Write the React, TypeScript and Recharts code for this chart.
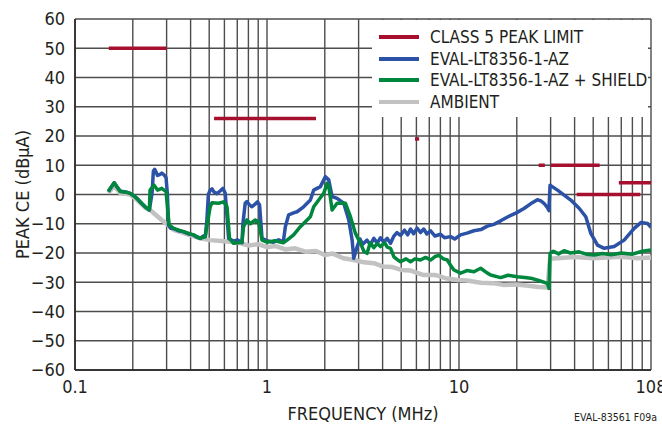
import { LineChart, Line, XAxis, YAxis, CartesianGrid } from "recharts";

// Conducted emissions (current probe), CISPR 25 class 5 peak limit
const FONT = '"Liberation Sans Narrow", "DejaVu Sans Condensed", "Roboto", sans-serif';
const TEXT = "#231f20";
const GRID = "#4d4d4d";

const RED = "#a6102e";
const BLUE = "#2b52a6";
const GREEN = "#00873e";
const GRAY = "#c2c2c2";

const X_GRID = [
  0.1, 0.2, 0.3, 0.4, 0.5, 0.6, 0.7, 0.8, 0.9,
  1, 2, 3, 4, 5, 6, 7, 8, 9,
  10, 20, 30, 40, 50, 60, 70, 80, 90, 100,
];
const X_LABELS: Record<number, string> = { 0.1: "0.1", 1: "1", 10: "10", 100: "108" };
const Y_TICKS = [-60, -50, -40, -30, -20, -10, 0, 10, 20, 30, 40, 50, 60];

// [start MHz, stop MHz, dBµA]
const LIMIT_SEGMENTS: [number, number, number][] = [
  [0.15, 0.3, 50],
  [0.53, 1.8, 26],
  [5.9, 6.2, 19],
  [26, 28, 10],
  [30, 54, 10],
  [41, 88, 0],
  [68, 108, 4],
];

// [MHz, dBµA]
const BOARD: [number, number][] = [
  [0.149, 1.0], [0.16, 4.0], [0.166, 2.5], [0.172, 1.2], [0.185, 0.8], [0.194, 0.4],
  [0.203, -0.5], [0.21, -1.3], [0.222, -3.0], [0.232, -4.2], [0.244, -5.3],
  [0.252, 0.5], [0.256, 8.0], [0.26, 8.6], [0.265, 7.5], [0.269, 6.5], [0.276, 6.8],
  [0.283, 7.3], [0.29, 6.8], [0.298, 5.8], [0.303, 0], [0.307, -10.5], [0.315, -11.5],
  [0.326, -11.6], [0.345, -12.4], [0.367, -12.7], [0.39, -13.5], [0.414, -13.8],
  [0.43, -14.6], [0.449, -15], [0.465, -14.2], [0.477, -14.4],
  [0.486, -9], [0.495, 0], [0.506, 1.5], [0.517, 1.9], [0.53, 0.8], [0.549, 0.3],
  [0.57, 1.2], [0.59, 2.1], [0.606, 0.4], [0.62, -8], [0.631, -15], [0.67, -16],
  [0.7, -15.5], [0.741, -16.5],
  [0.749, -10], [0.77, -3], [0.786, -2.4], [0.81, -3.5], [0.835, -4.2], [0.87, -3.2],
  [0.893, -2.5], [0.915, -3.6], [0.93, -10], [0.942, -15], [1.0, -15.8], [1.08, -16.3],
  [1.15, -15.5], [1.216, -16.2],
  [1.246, -11], [1.296, -7], [1.376, -6.3], [1.434, -5.9], [1.552, -4.2], [1.682, -1.9],
  [1.751, 1.5], [1.897, 2.7], [2.015, 6.1], [2.096, 5.0], [2.183, -0.7], [2.318, -1.3],
  [2.51, -3.0], [2.666, -8.7], [2.776, -15.6], [2.83, -21.8], [2.95, -17.8],
  [3.05, -15.2], [3.15, -17.0], [3.32, -15.6], [3.45, -17.2], [3.6, -15.0], [3.75, -16.6],
  [3.9, -14.8], [4.05, -16.2], [4.23, -15.0], [4.4, -16.7], [4.58, -14.2], [4.75, -13.0],
  [4.96, -14.0], [5.2, -12.2], [5.4, -13.8], [5.59, -11.8], [5.8, -13.4], [6.05, -11.5],
  [6.3, -13.0], [6.55, -11.8], [6.8, -13.5], [7.11, -12.4], [7.5, -14.2], [8.02, -13.6],
  [8.4, -14.8], [9.04, -14.4], [9.5, -15.2], [10.19, -13.8], [11, -13.2], [11.96, -12.4],
  [13, -12.0], [14.05, -10.8], [15.2, -10.2], [16.48, -9.0], [18, -7.6], [20, -6.2],
  [21.8, -4.8], [23.6, -3.2], [25.6, -1.8], [26.7, -2.2], [27.7, -3.0], [28.9, -4.5],
  [29.4, -5.5], [29.8, 3.2], [32.57, 1.5], [38.21, -1.9], [42.22, -4.7], [45.75, -7.6],
  [48.6, -13.3], [52.66, -17.3], [57.02, -18.4], [64.27, -17.8], [72.46, -15.6],
  [81.74, -11.6], [88.58, -9.6], [96, -9.9], [100, -11.2],
];

const SHIELDED: [number, number][] = [
  [0.149, 1.0], [0.16, 4.0], [0.166, 2.5], [0.172, 1.0], [0.185, 0.8], [0.194, 0.4],
  [0.203, -0.5], [0.21, -1.3], [0.222, -3.0], [0.232, -4.2], [0.244, -5.3],
  [0.246, 1.5], [0.258, 3.2], [0.269, 1.5], [0.283, 2.1], [0.298, 1.0], [0.309, -10.4],
  [0.326, -11.6], [0.367, -12.7], [0.414, -13.8], [0.449, -15], [0.477, -14.4],
  [0.486, -11], [0.506, -4.2], [0.517, -2.8], [0.559, -3.0], [0.594, -2.5], [0.619, -4.2],
  [0.638, -15], [0.67, -16.7], [0.741, -16.3], [0.755, -11], [0.786, -8.7], [0.82, -10],
  [0.869, -8.7], [0.904, -9.3], [0.942, -15.6], [1.0, -16.3], [1.1, -15.8], [1.216, -16.5],
  [1.272, -15.6], [1.376, -13.8], [1.492, -11], [1.682, -7.6], [1.751, -4.2], [1.974, 0.4],
  [2.056, 3.8], [2.096, 3.0], [2.183, -5.3], [2.318, -3.0], [2.562, -3.0], [2.72, -7.6],
  [2.888, -13.3], [3.07, -16.7], [3.2, -19.5], [3.32, -20.1], [3.45, -16.5], [3.6, -18.2],
  [3.75, -16.8], [3.9, -17.8], [4.1, -16.5], [4.23, -18.0], [4.4, -18.4], [4.58, -21.3],
  [4.8, -22.4], [4.96, -23], [5.3, -22.0], [5.59, -23], [5.9, -22.0], [6.3, -22.4],
  [6.7, -21.5], [7.11, -22.4], [7.5, -21.2], [7.86, -20.8], [8.3, -22.0], [8.69, -22.4],
  [9.04, -24.2], [9.41, -25.8], [10.19, -26.9], [11, -26.0], [11.96, -26.4], [12.96, -25.2],
  [14, -26.8], [14.62, -27.5], [16.48, -28.4], [18, -27.6], [20.14, -28.1], [22, -28.4],
  [23.63, -28.6], [26, -29.4], [28.88, -30.4], [29.44, -32.1], [29.8, -20.1], [31, -19.4],
  [33, -20.3], [35.25, -19.2], [38, -20.0], [42.22, -19.6], [46, -20.4], [50.56, -20.7],
  [56, -20.2], [62, -20.6], [70, -20.0], [80, -20.4], [90, -19.4], [100, -19.0],
];

const AMBIENT: [number, number][] = [
  [0.149, 0.5], [0.16, 3.0], [0.172, 0.5], [0.194, 0], [0.21, -1.8], [0.232, -4.5],
  [0.246, -5.3], [0.283, -8.7], [0.326, -12.1], [0.449, -15], [0.506, -15.6],
  [0.6, -16.0], [0.7, -16.4], [0.8, -17.4], [0.9, -17.0], [1.0, -18], [1.1, -17.6],
  [1.25, -18.8], [1.4, -18.4], [1.6, -19.6], [1.8, -19.3], [2.0, -20.7], [2.2, -20.2],
  [2.5, -21.8], [2.8, -22.3], [3.2, -23.2], [3.6, -23.5], [4.0, -24.6], [4.5, -24.8],
  [5.0, -25.8], [5.6, -26.0], [6.5, -27.5], [7.5, -27.5], [8.5, -28.6], [9.8, -29.2],
  [11, -29.4], [13, -30.2], [15, -30.3], [17, -30.9], [20, -30.8], [23, -31.2],
  [26, -31.6], [28.9, -31.8], [29.8, -22], [40, -21.4], [50, -21.8], [70, -21.3],
  [85, -21.8], [100, -21.5],
];

const LEGEND = [
  { label: "CLASS 5 PEAK LIMIT", color: RED },
  { label: "EVAL-LT8356-1-AZ", color: BLUE },
  { label: "EVAL-LT8356-1-AZ + SHIELD", color: GREEN },
  { label: "AMBIENT", color: GRAY },
];

const toRows = (pts: [number, number][]) => pts.map(([f, v]) => ({ f, v }));

export default function App() {
  return (
    <div style={{ position: "absolute", left: 0, top: 0, width: 662, height: 424, background: "#fff", fontFamily: FONT }}>
      <LineChart width={662} height={424} margin={{ top: 19, right: 11, bottom: 0, left: 0 }}>
        <CartesianGrid stroke={GRID} strokeWidth={1.4} />
        <XAxis
          dataKey="f"
          type="number"
          scale="log"
          domain={[0.1, 100]}
          allowDataOverflow
          ticks={X_GRID}
          interval={0}
          height={54}
          tickLine={false}
          tickSize={0}
          tickMargin={10}
          axisLine={{ stroke: TEXT, strokeWidth: 1.5 }}
          tickFormatter={(v: number) => X_LABELS[v] ?? ""}
          tick={{ fill: TEXT, fontSize: 18, fontFamily: FONT }}
          label={{ value: "FREQUENCY (MHz)", position: "insideBottom", offset: 4, fill: TEXT, fontSize: 18, fontFamily: FONT }}
        />
        <YAxis
          type="number"
          domain={[-60, 60]}
          ticks={Y_TICKS}
          interval={0}
          width={75}
          tickLine={false}
          tickSize={0}
          tickMargin={10}
          axisLine={{ stroke: TEXT, strokeWidth: 1.5 }}
          tickFormatter={(v: number) => (v < 0 ? `\u2212${-v}` : `${v}`)}
          tick={{ fill: TEXT, fontSize: 18, fontFamily: FONT }}
          label={{ value: "PEAK CE (dBµA)", angle: -90, position: "insideLeft", offset: 23, fill: TEXT, fontSize: 18, fontFamily: FONT, style: { textAnchor: "middle" } }}
        />
        <Line data={toRows(AMBIENT)} dataKey="v" stroke={GRAY} strokeWidth={4.5} strokeLinejoin="round" dot={false} isAnimationActive={false} />
        <Line data={toRows(BOARD)} dataKey="v" stroke={BLUE} strokeWidth={3.5} strokeLinejoin="round" dot={false} isAnimationActive={false} />
        <Line data={toRows(SHIELDED)} dataKey="v" stroke={GREEN} strokeWidth={3.5} strokeLinejoin="round" dot={false} isAnimationActive={false} />
        {LIMIT_SEGMENTS.map(([a, b, lvl], i) => (
          <Line
            key={i}
            data={[{ f: a, v: lvl }, { f: b, v: lvl }]}
            dataKey="v"
            stroke={RED}
            strokeWidth={3.5}
            strokeLinecap="butt"
            dot={false}
            isAnimationActive={false}
          />
        ))}
      </LineChart>

      {/* legend box sits over the grid, top right */}
      <div style={{ position: "absolute", left: 372, top: 20, width: 276, height: 97, background: "#fff" }}>
        {LEGEND.map((it, i) => (
          <div key={it.label} style={{ position: "absolute", left: 7, top: 6 + i * 21.7, height: 22, display: "flex", alignItems: "center" }}>
            <div style={{ width: 40, height: 4, background: it.color }} />
            <span style={{ marginLeft: 11, fontSize: 17, color: TEXT, whiteSpace: "nowrap" }}>{it.label}</span>
          </div>
        ))}
      </div>

      <div style={{ position: "absolute", left: 574, top: 411, fontSize: 10.5, color: TEXT, whiteSpace: "nowrap" }}>
        EVAL-83561 F09a
      </div>
    </div>
  );
}
